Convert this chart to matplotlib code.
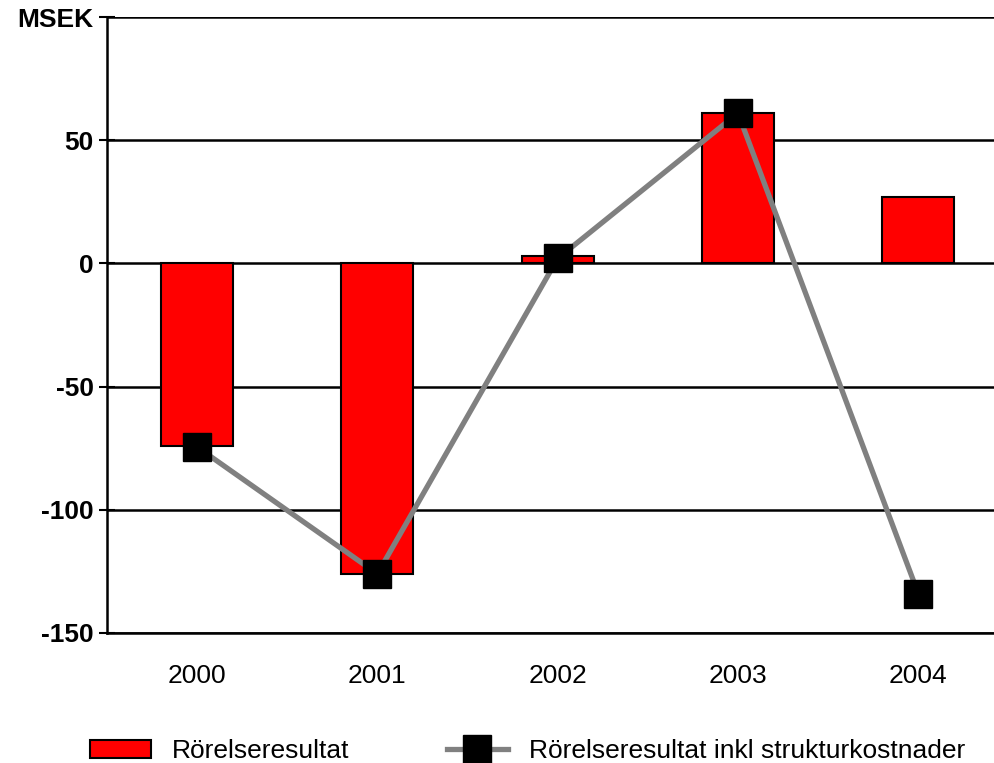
import numpy as np
import matplotlib.pyplot as plt

plt.rcParams['font.family'] = ['Liberation Sans', 'DejaVu Sans']

years = ["2000", "2001", "2002", "2003", "2004"]
rorelseresultat = [-74, -126, 3, 61, 27]
inkl_struktur = [-74.5, -126, 2, 61, -134]
ytick_values = [-150, -100, -50, 0, 50, 100]
ytick_labels = ["-150", "-100", "-50", "0", "50", "MSEK"]

fig = plt.figure(figsize=(9.94, 7.63), dpi=100)
ax = fig.add_axes([0.1076, 0.1704, 0.8924, 0.8073])

x = np.arange(len(years))
bars = ax.bar(x, rorelseresultat, width=0.4, color="#ff0000", edgecolor="black",
              linewidth=1.5, zorder=3, label="Rörelseresultat")
line, = ax.plot(x, inkl_struktur, color="#808080", linewidth=3.8, marker="s",
                markersize=20, markerfacecolor="black", markeredgecolor="black",
                zorder=4, label="Rörelseresultat inkl strukturkostnader")

ax.set_xlim(-0.5, 4.42)
ax.set_ylim(-150, 100)
ax.set_xticks(x)
ax.set_xticklabels(years, fontsize=19)
ax.set_yticks(ytick_values)
ax.set_yticklabels(ytick_labels, fontsize=19, fontweight="bold")

ax.tick_params(axis="x", length=0, pad=22)
ax.tick_params(axis="y", direction="inout", length=12, width=1.5, pad=3.5)

ax.yaxis.grid(True, color="black", linewidth=1.8, zorder=1)
ax.set_axisbelow(True)
for side in ["top", "right"]:
    ax.spines[side].set_visible(False)
for side in ["left", "bottom"]:
    ax.spines[side].set_linewidth(1.8)

fig.legend(handles=[bars, line], loc="center left",
           bbox_to_anchor=(0.0905, 0.0157), ncol=2,
           frameon=False, fontsize=19, borderpad=0, borderaxespad=0,
           handlelength=2.3, handleheight=0.65, handletextpad=0.8,
           columnspacing=3.7, numpoints=1)

fig.savefig("out.png", dpi=100)
